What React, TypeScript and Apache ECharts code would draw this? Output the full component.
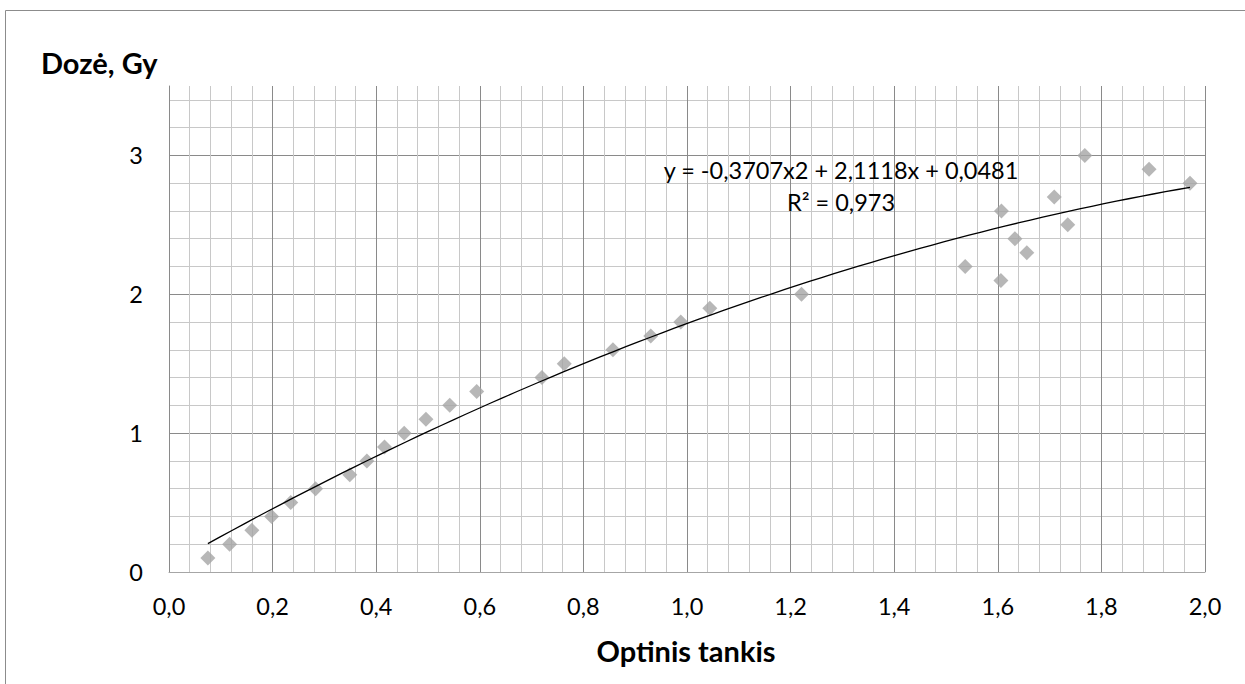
import React, { useEffect, useRef } from "react";
import * as echarts from "echarts";

const opticalDensity = [
  0.075, 0.117, 0.16, 0.198, 0.235, 0.283, 0.349, 0.382, 0.416, 0.454,
  0.496, 0.542, 0.594, 0.72, 0.763, 0.857, 0.93, 0.988, 1.044, 1.221,
  1.537, 1.606, 1.607, 1.633, 1.656, 1.709, 1.735, 1.768, 1.892, 1.971,
];
const doseGy = [
  0.1, 0.2, 0.3, 0.4, 0.5, 0.6, 0.7, 0.8, 0.9, 1.0,
  1.1, 1.2, 1.3, 1.4, 1.5, 1.6, 1.7, 1.8, 1.9, 2.0,
  2.2, 2.1, 2.6, 2.4, 2.3, 2.7, 2.5, 3.0, 2.9, 2.8,
];
// trendline coefficients as printed on the chart
const trendA = -0.3707;
const trendB = 2.1118;
const trendC = 0.0481;
const equationText = "y = -0,3707x2 + 2,1118x + 0,0481";
const r2Text = "R² = 0,973";
const yAxisTitle = "Dozė, Gy";
const xAxisTitle = "Optinis tankis";

const FONT = "Lato, 'Open Sans', sans-serif";

export default function App() {
  const ref = useRef<HTMLDivElement>(null);
  useEffect(() => {
    document.body.style.margin = "0";
    if (!ref.current) return;
    const chart = echarts.init(ref.current, undefined, { renderer: "svg" });

    const scatter = opticalDensity.map((x, i) => [x, doseGy[i]]);
    const xMin = Math.min(...opticalDensity);
    const xMax = Math.max(...opticalDensity);
    const steps = 80;
    const trend: number[][] = [];
    for (let i = 0; i <= steps; i++) {
      const x = xMin + ((xMax - xMin) * i) / steps;
      trend.push([x, trendA * x * x + trendB * x + trendC]);
    }

    const major = "#8a8a8a";
    const minor = "#c8c8c8";

    chart.setOption({
      animation: false,
      backgroundColor: "#ffffff",
      textStyle: { fontFamily: FONT },
      grid: { left: 169, top: 86, right: 40, bottom: 112, containLabel: false },
      xAxis: {
        type: "value",
        min: 0,
        max: 2,
        interval: 0.2,
        axisLine: { show: true, lineStyle: { color: "#a6a6a6", width: 1 } },
        axisTick: { show: false },
        axisLabel: {
          margin: 22,
          fontSize: 23.5,
          color: "#000",
          fontFamily: FONT,
          formatter: (v: number) => v.toFixed(1).replace(".", ","),
        },
        splitLine: { show: true, lineStyle: { color: major, width: 1 } },
        minorTick: { show: false, splitNumber: 5 },
        minorSplitLine: { show: true, lineStyle: { color: minor, width: 1 } },
      },
      yAxis: {
        type: "value",
        min: 0,
        max: 3.5,
        interval: 1,
        axisLine: { show: true, lineStyle: { color: major, width: 1 } },
        axisTick: { show: false },
        axisLabel: {
          margin: 26,
          fontSize: 23.5,
          color: "#000",
          fontFamily: FONT,
          formatter: (v: number) => (Number.isInteger(v) ? String(v) : ""),
        },
        splitLine: { show: true, showMaxLine: false, lineStyle: { color: major, width: 1 } },
        minorTick: { show: false, splitNumber: 5 },
        minorSplitLine: { show: true, lineStyle: { color: minor, width: 1 } },
      },
      graphic: [
        {
          type: "rect",
          silent: true,
          shape: { x: 5.5, y: 10.5, width: 1400, height: 900 },
          style: { fill: "none", stroke: "#8c8c8c", lineWidth: 1 },
          z: 100,
        },
        {
          type: "text",
          x: 41,
          y: 62,
          style: { text: yAxisTitle, fontSize: 29, fontWeight: "bold", fill: "#000", fontFamily: FONT, verticalAlign: "middle" },
        },
        {
          type: "text",
          x: 686,
          y: 650,
          style: {
            text: xAxisTitle,
            fontSize: 29,
            fontWeight: "bold",
            fill: "#000",
            fontFamily: FONT,
            align: "center",
            verticalAlign: "middle",
          },
        },
        {
          type: "text",
          x: 841,
          y: 170,
          z: 50,
          style: { text: equationText, fontSize: 23.5, fill: "#000", fontFamily: FONT, align: "center", verticalAlign: "middle" },
        },
        {
          type: "text",
          x: 841,
          y: 202,
          z: 50,
          style: { text: r2Text, fontSize: 23.5, fill: "#000", fontFamily: FONT, align: "center", verticalAlign: "middle" },
        },
      ],
      series: [
        {
          type: "scatter",
          data: scatter,
          symbol: "diamond",
          symbolSize: 15,
          itemStyle: { color: "#a5a5a5" },
          z: 3,
        },
        {
          type: "line",
          data: trend,
          showSymbol: false,
          symbol: "none",
          smooth: false,
          lineStyle: { color: "#000", width: 1.3 },
          z: 4,
        },
      ],
    });
    return () => chart.dispose();
  }, []);
  return <div ref={ref} style={{ width: 1245, height: 684 }} />;
}
